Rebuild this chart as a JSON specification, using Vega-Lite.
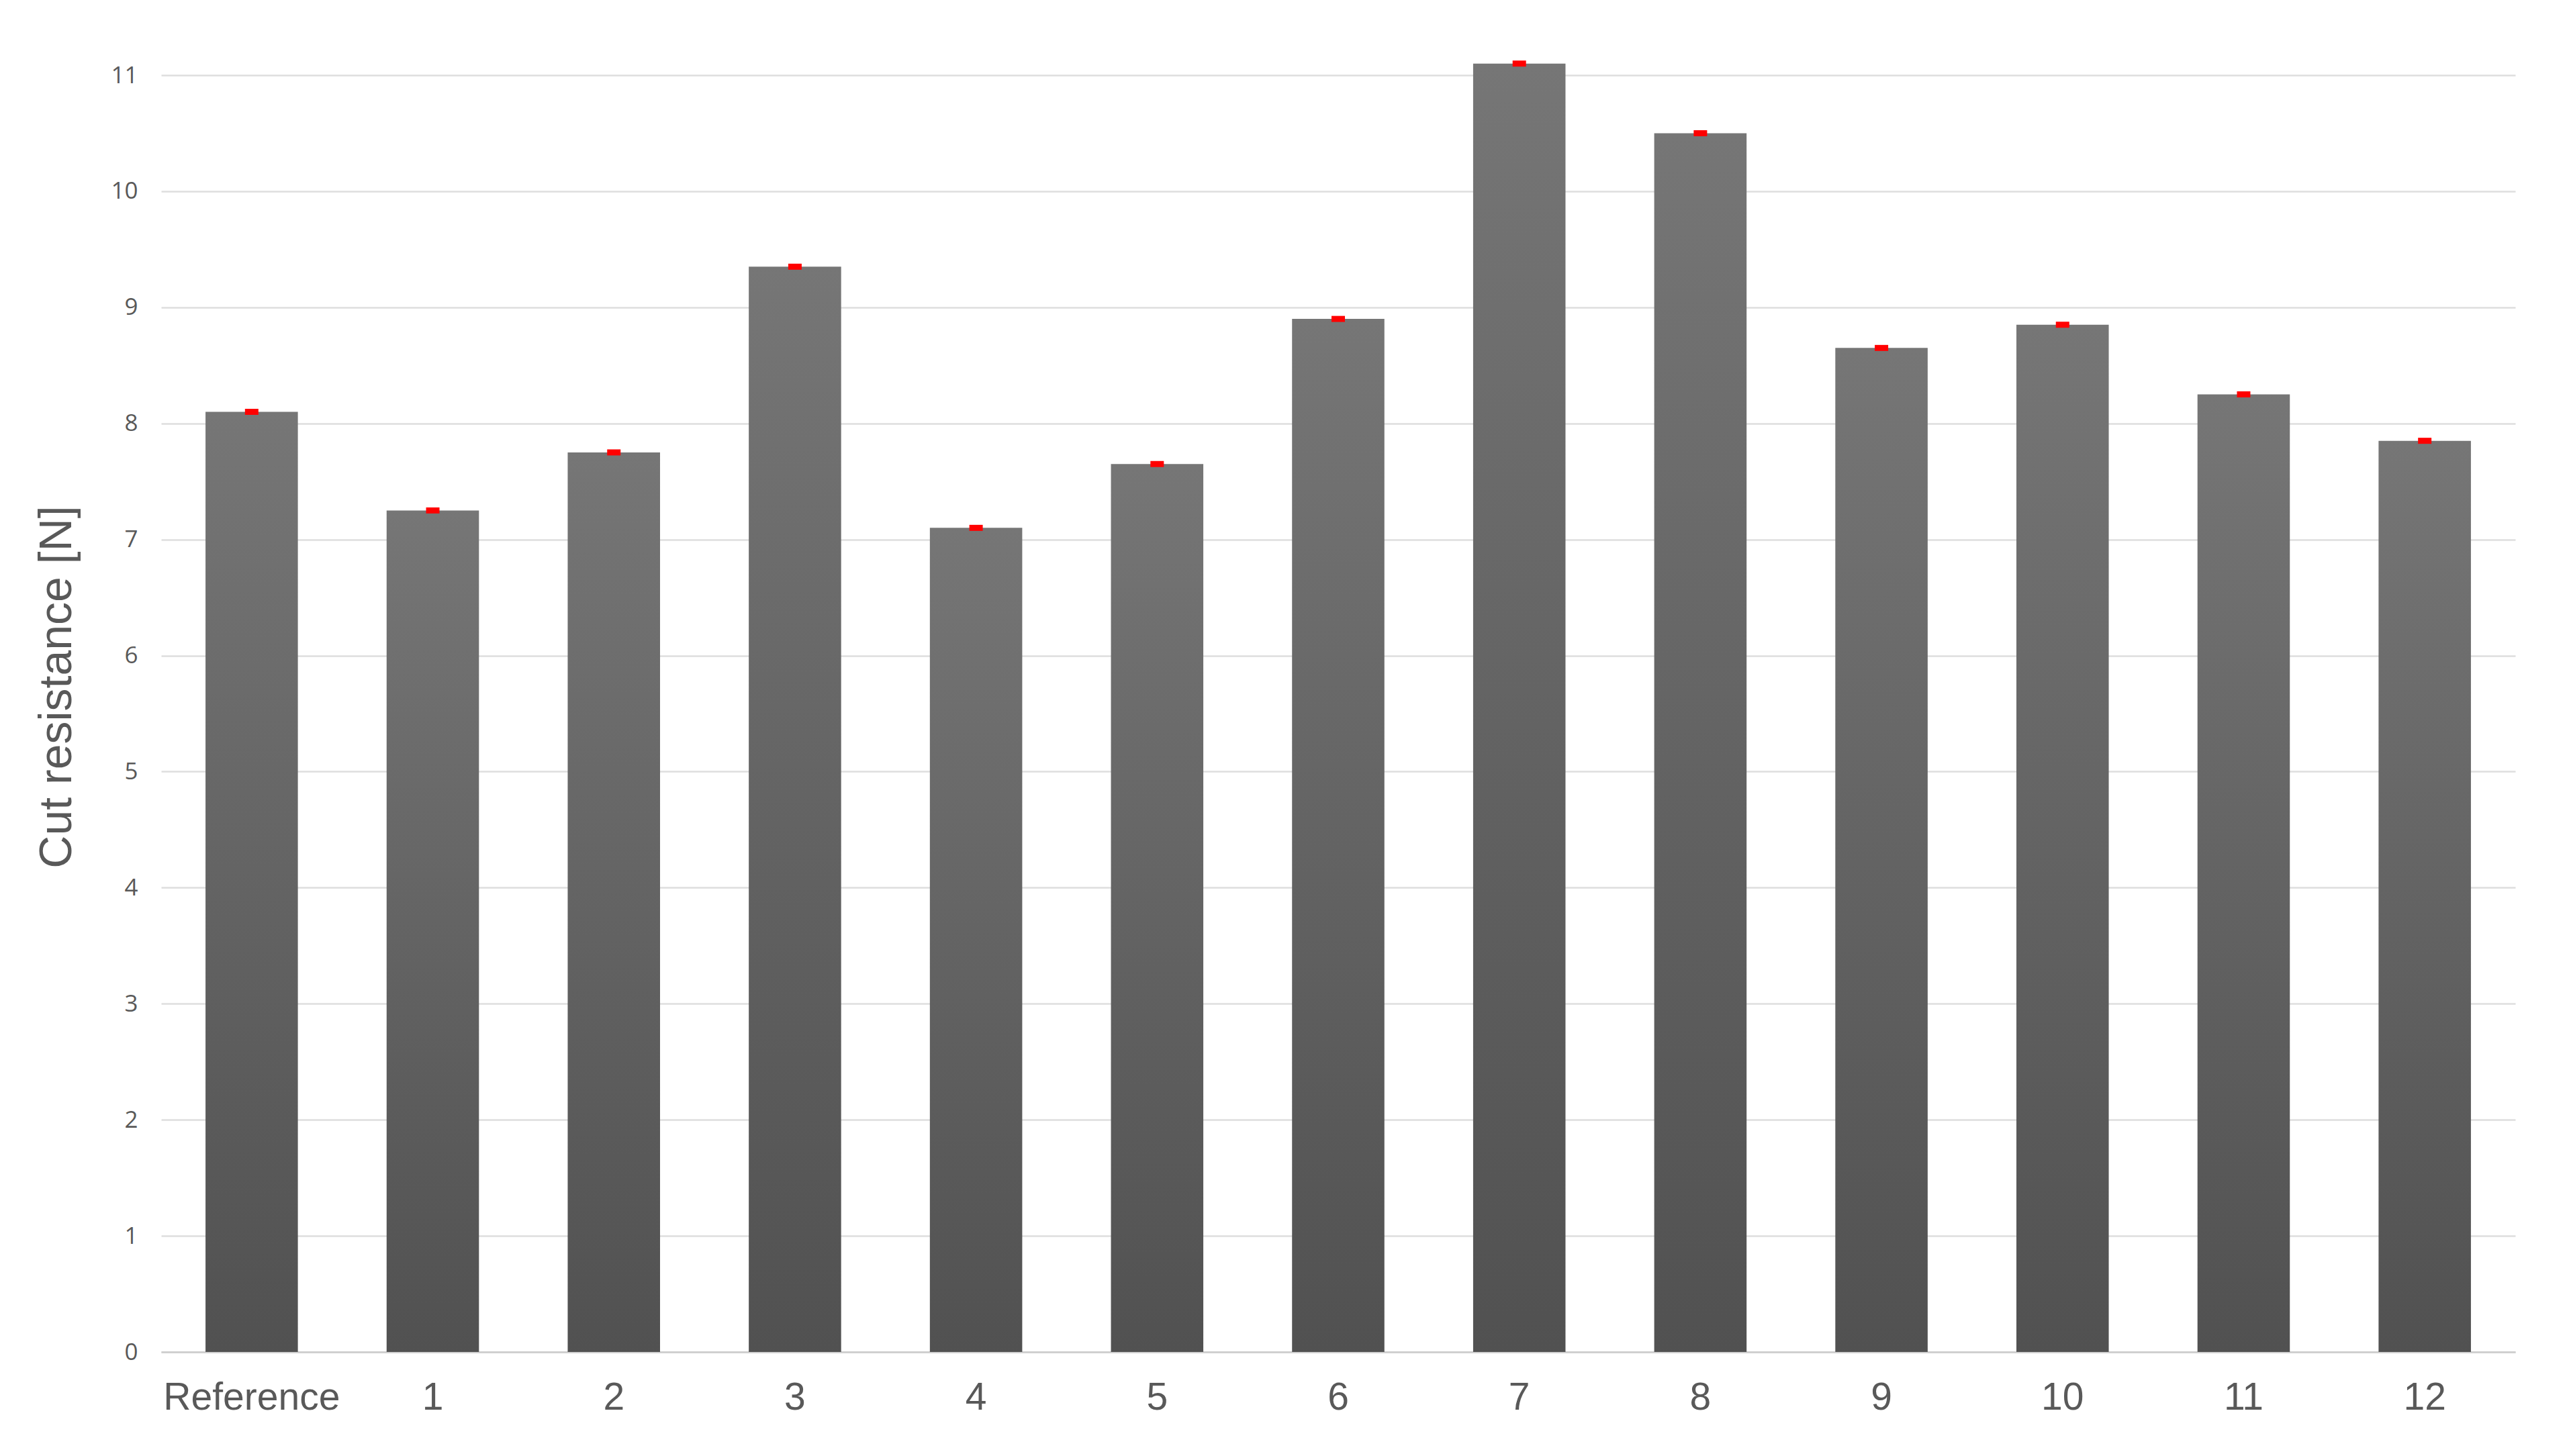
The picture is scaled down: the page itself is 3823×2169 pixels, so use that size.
{
  "$schema": "https://vega.github.io/schema/vega-lite/v6.json",
  "width": 3506,
  "height": 1902,
  "autosize": {"type": "none"},
  "padding": {"left": 240, "top": 112, "right": 77, "bottom": 155},
  "background": "white",
  "data": {
    "values": [
      {"sample": "Reference", "resistance": 8.1},
      {"sample": "1", "resistance": 7.25},
      {"sample": "2", "resistance": 7.75},
      {"sample": "3", "resistance": 9.35},
      {"sample": "4", "resistance": 7.1},
      {"sample": "5", "resistance": 7.65},
      {"sample": "6", "resistance": 8.9},
      {"sample": "7", "resistance": 11.1},
      {"sample": "8", "resistance": 10.5},
      {"sample": "9", "resistance": 8.65},
      {"sample": "10", "resistance": 8.85},
      {"sample": "11", "resistance": 8.25},
      {"sample": "12", "resistance": 7.85}
    ]
  },
  "config": {
    "view": {"stroke": null}
  },
  "encoding": {
    "x": {
      "field": "sample",
      "type": "nominal",
      "sort": null,
      "scale": {"paddingInner": 0.49, "paddingOuter": 0.245},
      "axis": {
        "title": null,
        "labelAngle": 0,
        "labelFont": "Liberation Sans",
        "labelFontSize": 57,
        "labelColor": "#595959",
        "labelPadding": 40,
        "labelLimit": 0,
        "ticks": false,
        "domain": true,
        "domainColor": "#d0d0d0",
        "domainWidth": 3,
        "grid": false
      }
    },
    "y": {
      "field": "resistance",
      "type": "quantitative",
      "scale": {"domain": [0, 11], "nice": false},
      "axis": {
        "title": "Cut resistance [N]",
        "titleFont": "Liberation Sans",
        "titleFontSize": 68,
        "titleFontWeight": "normal",
        "titleColor": "#595959",
        "titleAngle": -90,
        "titleX": -155,
        "titleY": 911,
        "titleAlign": "center",
        "titleBaseline": "middle",
        "values": [0, 1, 2, 3, 4, 5, 6, 7, 8, 9, 10, 11],
        "labelFont": "Open Sans",
        "labelFontSize": 35,
        "labelColor": "#595959",
        "labelPadding": 35,
        "ticks": false,
        "domain": false,
        "grid": true,
        "gridColor": "#dedede",
        "gridWidth": 2.5
      }
    }
  },
  "layer": [
    {
      "mark": {
        "type": "bar",
        "color": {
          "gradient": "linear",
          "x1": 0, "y1": 0, "x2": 0, "y2": 1,
          "stops": [
            {"offset": 0, "color": "#767676"},
            {"offset": 1, "color": "#515151"}
          ]
        }
      }
    },
    {
      "mark": {"type": "tick", "color": "#ff0000", "thickness": 9, "size": 20, "opacity": 1}
    }
  ]
}
